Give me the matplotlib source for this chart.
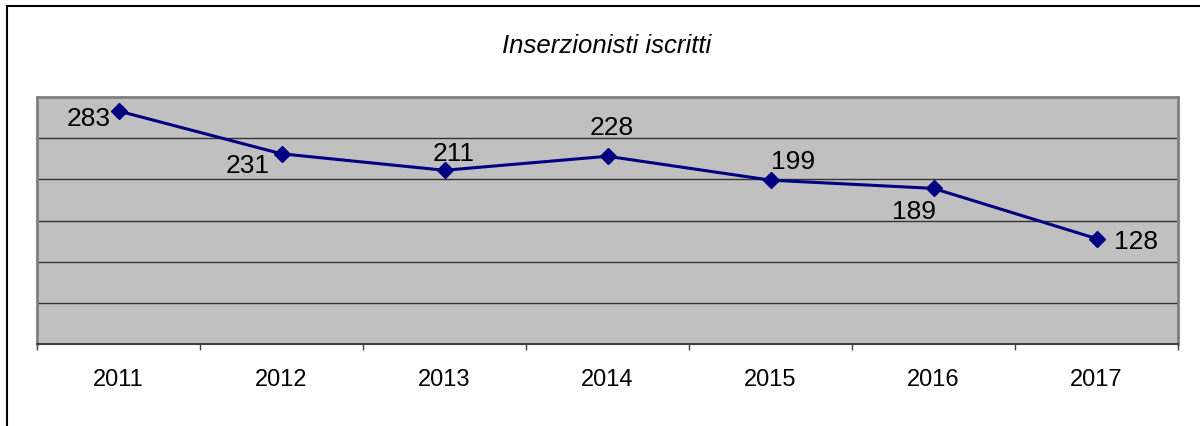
import matplotlib
matplotlib.use("Agg")
import matplotlib.pyplot as plt
from matplotlib.lines import Line2D

years = ["2011", "2012", "2013", "2014", "2015", "2016", "2017"]
values = [283, 231, 211, 228, 199, 189, 128]
# label offsets in pixels (dx, dy) relative to each point
label_offsets = [(-30, -7), (-34, -11), (9, 17), (4, 29), (23, 19), (-19, -23), (39, -2)]

plt.rcParams['font.family'] = ['Liberation Sans', 'DejaVu Sans']

fig = plt.figure(figsize=(12, 4.27), dpi=100)
ax = fig.add_axes([37/1200, 1 - 345/427, (1178-37)/1200, (345-98)/427])
ax.set_facecolor('#C0C0C0')

x = list(range(len(years)))
ax.plot(x, values, color='#000080', linewidth=2.2, marker='D', markersize=8,
        markerfacecolor='#000080', markeredgecolor='#000080', zorder=3)

for xi, v, (dx, dy) in zip(x, values, label_offsets):
    ax.annotate(str(v), (xi, v), xytext=(dx, dy), textcoords='offset pixels',
                ha='center', va='center', fontsize=19, color='black', zorder=4)

ax.set_xlim(-0.5, len(years) - 0.5)
ax.set_ylim(0, 300)
ax.set_yticks([])
for g in [50, 100, 150, 200, 250]:
    ax.axhline(g, color='#333333', linewidth=1, zorder=1)

# ticks at category boundaries, labels at centers
ax.set_xticks([i - 0.5 for i in range(len(years) + 1)])
ax.set_xticklabels([])
ax.set_xticks(x, minor=True)
ax.set_xticklabels(years, minor=True, fontsize=17)
ax.tick_params(axis='x', which='major', direction='out', length=4.5, width=1, color='#404040')
ax.tick_params(axis='x', which='minor', length=0, pad=17)

for s in ['top', 'left', 'right']:
    ax.spines[s].set_color('#808080')
    ax.spines[s].set_linewidth(2)
ax.spines['bottom'].set_color('#404040')
ax.spines['bottom'].set_linewidth(1.5)

fig.text(607/1200, 1 - 46/427, "Inserzionisti iscritti", ha='center', va='center',
         fontsize=18.5, style='italic')

# outer chart frame (left and top visible)
fig.add_artist(Line2D([6.5/1200, 6.5/1200], [0, 1 - 6.5/427], transform=fig.transFigure,
                      color='black', linewidth=1.5))
fig.add_artist(Line2D([6.5/1200, 1], [1 - 6.5/427, 1 - 6.5/427], transform=fig.transFigure,
                      color='black', linewidth=1.5))

fig.savefig("out.png", dpi=100)
